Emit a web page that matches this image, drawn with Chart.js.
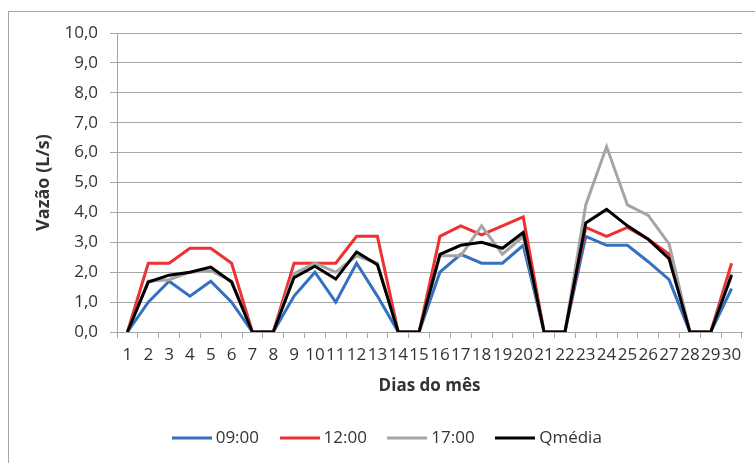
<!DOCTYPE html>
<html>
<head>
<meta charset="utf-8">
<script src="https://cdn.jsdelivr.net/npm/chart.js@4"></script>
<style>
  html, body { margin: 0; padding: 0; background: #fff; }
  #wrap { position: relative; width: 755px; height: 463px; overflow: hidden; }
  #frame { position: absolute; left: 8px; top: 11px; width: 900px; height: 600px;
           border-left: 1px solid #a6a6a6; border-top: 1px solid #a6a6a6; }
  canvas { position: absolute; left: 0; top: 0; }
</style>
</head>
<body>
<div id="wrap">
  <div id="frame"></div>
  <canvas id="c" width="755" height="463"></canvas>
</div>
<script>
// Dias do mês (categorias)
const dias = ['1','2','3','4','5','6','7','8','9','10','11','12','13','14','15',
              '16','17','18','19','20','21','22','23','24','25','26','27','28','29','30'];

// Vazão medida (L/s) em cada horário
const q0900 = [0, 1.0, 1.7, 1.2, 1.7, 1.0, 0, 0, 1.2, 2.0, 1.0, 2.3, 1.2, 0, 0,
               2.0, 2.6, 2.3, 2.3, 2.9, 0, 0, 3.2, 2.9, 2.9, 2.35, 1.75, 0, 0, 1.45];
const q1200 = [0, 2.3, 2.3, 2.8, 2.8, 2.3, 0, 0, 2.3, 2.3, 2.3, 3.2, 3.2, 0, 0,
               3.2, 3.55, 3.25, 3.55, 3.85, 0, 0, 3.5, 3.2, 3.5, 3.1, 2.6, 0, 0, 2.3];
const q1700 = [0, 1.7, 1.75, 2.0, 2.05, 1.7, 0, 0, 1.95, 2.3, 2.0, 2.55, 2.3, 0, 0,
               2.55, 2.55, 3.55, 2.6, 3.2, 0, 0, 4.25, 6.2, 4.25, 3.9, 2.95, 0, 0, 1.95];
const qMedia = [0, 1.67, 1.9, 2.0, 2.17, 1.67, 0, 0, 1.82, 2.2, 1.77, 2.68, 2.25, 0, 0,
                2.6, 2.9, 3.0, 2.8, 3.33, 0, 0, 3.65, 4.1, 3.55, 3.1, 2.45, 0, 0, 1.9];

// Eixo Y
const yMin = 0, yMax = 10, yStep = 1;

const FONT = "'Open Sans', 'Liberation Sans', sans-serif";
const GRID = '#a6a6a6';
const TEXT = '#333333';

function serie(label, data, color, order) {
  return {
    label, data, order,
    borderColor: color, backgroundColor: color,
    borderWidth: 3, pointRadius: 0, pointHoverRadius: 0,
    tension: 0, fill: false
  };
}

// traço da legenda: linha de 40px desenhada num pequeno canvas
function legendStroke(color) {
  const c = document.createElement('canvas');
  c.width = 40; c.height = 4;
  const g = c.getContext('2d');
  g.fillStyle = color;
  g.fillRect(0, 0.5, 40, 3);
  return c;
}

// desloca a legenda horizontalmente
const legendShift = {
  id: 'legendShift',
  afterLayout(chart) {
    if (chart.legend) { chart.legend.left += 18; chart.legend.right += 18; }
  }
};

new Chart(document.getElementById('c'), {
  type: 'line',
  data: {
    labels: dias,
    datasets: [
      serie('09:00', q0900, '#3571c1', 4),
      serie('12:00', q1200, '#ee3131', 3),
      serie('17:00', q1700, '#a5a5a5', 2),
      serie('Qmédia', qMedia, '#000000', 1)
    ]
  },
  options: {
    responsive: false,
    devicePixelRatio: 1,
    animation: false,
    layout: { padding: { left: 0, right: 13, top: 33, bottom: 6.5 } },
    plugins: {
      tooltip: { enabled: false },
      legend: {
        position: 'bottom',
        labels: {
          usePointStyle: true,
          pointStyleWidth: 31,
          padding: 25,
          color: TEXT,
          font: { family: FONT, size: 17 },
          sort: (a, b) => a.datasetIndex - b.datasetIndex,
          generateLabels(chart) {
            return chart.data.datasets.map((ds, i) => ({
              text: ds.label,
              datasetIndex: i,
              strokeStyle: ds.borderColor,
              fillStyle: ds.borderColor,
              lineWidth: 0,
              pointStyle: legendStroke(ds.borderColor),
              hidden: false,
              fontColor: TEXT
            }));
          }
        }
      }
    },
    scales: {
      x: {
        type: 'category',
        offset: true,
        afterFit(scale) { scale.height = 72.5; },
        grid: {
          offset: true,
          drawOnChartArea: false,
          drawTicks: true,
          tickLength: 6,
          color: GRID,
          lineWidth: 1
        },
        border: { color: GRID, width: 1 },
        ticks: {
          autoSkip: false,
          maxRotation: 0,
          minRotation: 0,
          padding: 7,
          color: TEXT,
          font: { family: FONT, size: 17 }
        },
        title: {
          display: true,
          text: 'Dias do mês',
          color: TEXT,
          font: { family: FONT, size: 17, weight: 'bold' },
          padding: { top: 0, bottom: 8 }
        }
      },
      y: {
        min: yMin,
        max: yMax,
        afterFit(scale) { scale.width = 117; },
        grid: {
          color: GRID,
          lineWidth: 1,
          drawTicks: true,
          tickLength: 7
        },
        border: { color: GRID, width: 1 },
        ticks: {
          stepSize: yStep,
          padding: 12,
          color: TEXT,
          font: { family: FONT, size: 17 },
          callback: v => v.toFixed(1).replace('.', ',')
        },
        title: {
          display: true,
          text: 'Vazão (L/s)',
          color: TEXT,
          font: { family: FONT, size: 18, weight: 'bold' },
          padding: { top: 33, bottom: 0 }
        }
      }
    }
  },
  plugins: [legendShift]
});
</script>
</body>
</html>
